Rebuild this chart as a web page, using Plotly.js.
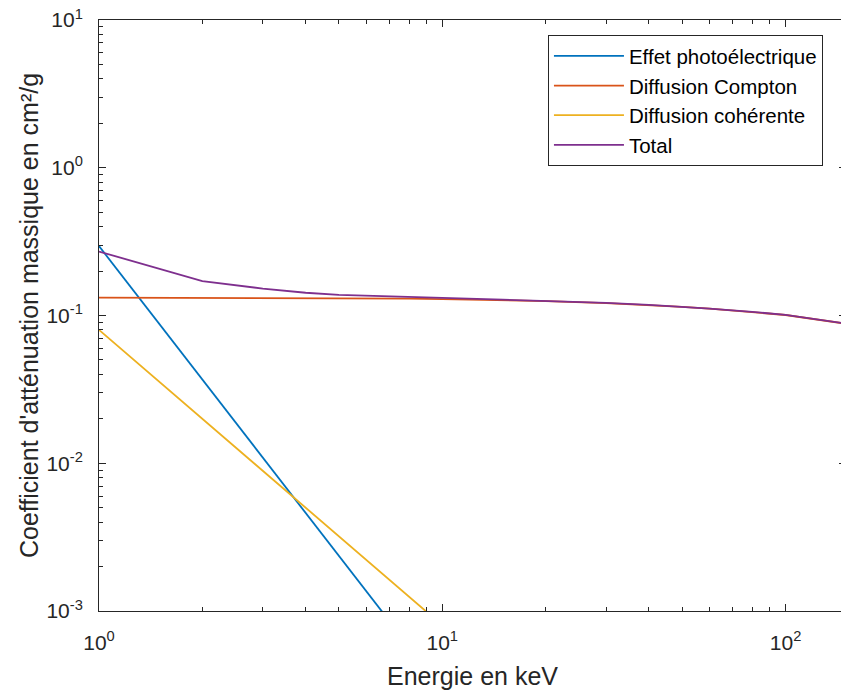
<!DOCTYPE html>
<html>
<head>
<meta charset="utf-8">
<script src="https://cdn.plot.ly/plotly-3.0.1.min.js"></script>
<style>
  html, body { margin: 0; padding: 0; overflow: hidden; background: #fff; }
  #chart { width: 848px; height: 693px; }
</style>
</head>
<body>
<div id="chart"></div>
<script>
// ---- Data ----
const energies = [1, 2, 3, 4, 5, 6, 8, 10, 15, 20, 30, 40, 50, 60, 80, 100, 150];
const photoelectric = [0.295, 0.0369, 0.0109, 0.00461, 0.00236, 0.00137, 0.000576, 0.000295, 0.0000874, 0.0000369, 0.0000109, 0.00000461, 0.00000236, 0.00000137, 0.000000576, 0.000000295, 0.0000000874];
const compton = [0.132, 0.1318, 0.1316, 0.1313, 0.131, 0.1307, 0.13, 0.1292, 0.1272, 0.1252, 0.1213, 0.1177, 0.1144, 0.1113, 0.1058, 0.1008, 0.088];
const coherent = [0.08, 0.02, 0.0089, 0.005, 0.0032, 0.0022, 0.00125, 0.0008, 0.00036, 0.0002, 0.000089, 0.00005, 0.000032, 0.000022, 0.0000125, 0.000008, 0.0000036];
const total = [0.271, 0.171, 0.152, 0.1425, 0.138, 0.136, 0.1335, 0.1315, 0.128, 0.1258, 0.1216, 0.1179, 0.1146, 0.1114, 0.1059, 0.1009, 0.0882];

const seriesNames = ["Effet photoélectrique", "Diffusion Compton", "Diffusion cohérente", "Total"];

const xTickVals = [1, 10, 100];
const xTickText = ["10<sup>0</sup>", "10<sup>1</sup>", "10<sup>2</sup>"];
const yTickVals = [0.001, 0.01, 0.1, 1, 10];
const yTickText = ["10<sup>-3</sup>", "10<sup>-2</sup>", "10<sup>-1</sup>", "10<sup>0</sup>", "10<sup>1</sup>"];

const xTitle = "Energie en keV";
const yTitle = "Coefficient d'atténuation massique en cm²/g";

// ---- Styling ----
const colors = ["#0072BD", "#D95319", "#EDB120", "#7E2F8E"];
const axisColor = "#262626";
const fontFamily = "Liberation Sans, Arial, Helvetica, sans-serif";

function minorTicks(lo, hi) {
  const out = [];
  for (let p = lo; p < hi; p++) {
    for (let m = 2; m <= 9; m++) out.push(m * Math.pow(10, p));
  }
  return out;
}

const seriesValues = [photoelectric, compton, coherent, total];
const traces = seriesValues.map((vals, i) => ({
  x: energies,
  y: vals,
  type: "scatter",
  mode: "lines",
  name: seriesNames[i],
  line: { color: colors[i], width: 1.8 }
}));
// carrier (draws nothing) so the overlay axes holding the minor ticks are rendered
traces.push({
  x: energies, y: total, xaxis: "x2", yaxis: "y2",
  type: "scatter", mode: "none", showlegend: false, hoverinfo: "skip"
});

const xRange = [0, Math.log10(150)];
const yRange = [-3, 1];

const axisCommon = {
  type: "log",
  showgrid: false,
  zeroline: false,
  showline: true,
  linecolor: axisColor,
  linewidth: 1,
  mirror: "ticks",
  ticks: "inside",
  tickwidth: 1,
  tickcolor: axisColor,
  tickmode: "array",
  fixedrange: true
};

const layout = {
  width: 848,
  height: 693,
  margin: { l: 99, r: 2, t: 20, b: 82 },
  paper_bgcolor: "#ffffff",
  plot_bgcolor: "#ffffff",
  font: { family: fontFamily, color: axisColor },
  showlegend: true,
  xaxis: Object.assign({}, axisCommon, {
    range: xRange,
    ticklen: 7,
    tickvals: xTickVals,
    ticktext: xTickText,
    ticklabelstandoff: 13,
    tickfont: { family: fontFamily, size: 21, color: axisColor },
    title: { text: xTitle, font: { family: fontFamily, size: 25, color: axisColor }, standoff: 14 }
  }),
  yaxis: Object.assign({}, axisCommon, {
    range: yRange,
    ticklen: 7,
    tickvals: yTickVals,
    ticktext: yTickText,
    ticklabelstandoff: 11,
    tickfont: { family: fontFamily, size: 21, color: axisColor },
    title: { text: yTitle, font: { family: fontFamily, size: 25, color: axisColor }, standoff: 0 }
  }),
  // overlay axes carrying the minor (2..9) log ticks
  xaxis2: Object.assign({}, axisCommon, {
    overlaying: "x",
    anchor: "y",
    side: "bottom",
    range: xRange,
    ticklen: 4,
    tickvals: minorTicks(0, 3),
    showticklabels: false
  }),
  yaxis2: Object.assign({}, axisCommon, {
    overlaying: "y",
    anchor: "x",
    side: "left",
    range: yRange,
    ticklen: 4,
    tickvals: minorTicks(-3, 1),
    showticklabels: false
  }),
  legend: {
    x: 0.601,
    y: 0.9745,
    xanchor: "left",
    yanchor: "top",
    bgcolor: "#ffffff",
    bordercolor: axisColor,
    borderwidth: 1,
    itemwidth: 70,
    font: { family: fontFamily, size: 20.5, color: "#000000" },
    tracegroupgap: 0
  }
};

Plotly.newPlot("chart", traces, layout, { displayModeBar: false, staticPlot: true });
</script>
</body>
</html>
